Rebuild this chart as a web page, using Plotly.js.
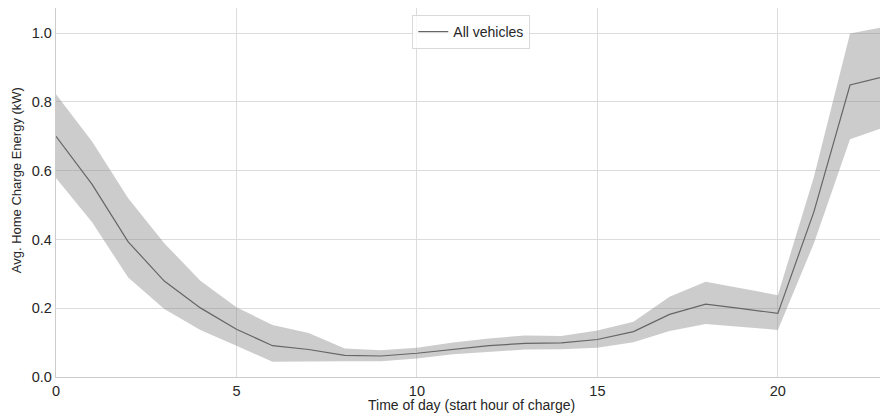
<!DOCTYPE html>
<html>
<head>
<meta charset="utf-8">
<script src="https://cdn.plot.ly/plotly-3.0.1.min.js"></script>
<style>html,body{margin:0;padding:0;background:#fff;}#chart{width:880px;height:414px;}</style>
</head>
<body>
<div id="chart"></div>
<script>
const hours = [0,1,2,3,4,5,6,7,8,9,10,11,12,13,14,15,16,17,18,19,20,21,22,23];
const meanKW = [0.700,0.560,0.393,0.279,0.201,0.139,0.091,0.080,0.063,0.061,0.069,0.080,0.091,0.098,0.099,0.109,0.132,0.182,0.212,0.199,0.185,0.481,0.849,0.875];
const upperKW = [0.822,0.685,0.520,0.389,0.280,0.203,0.151,0.128,0.083,0.078,0.085,0.100,0.112,0.121,0.119,0.135,0.161,0.233,0.277,0.257,0.238,0.582,0.999,1.019];
const lowerKW = [0.579,0.450,0.289,0.198,0.137,0.091,0.044,0.044,0.046,0.046,0.054,0.066,0.074,0.080,0.081,0.085,0.101,0.134,0.154,0.146,0.137,0.389,0.691,0.728];
const seriesName = "All vehicles";
const xTicks = [0,5,10,15,20];
const yTicks = [0.0,0.2,0.4,0.6,0.8,1.0];
const xTitle = 'Time of day (start hour of charge)';
const yTitle = 'Avg. Home Charge Energy (kW)';

const band = {
  x: hours.concat(hours.slice().reverse()),
  y: upperKW.concat(lowerKW.slice().reverse()),
  type: 'scatter', mode: 'lines', fill: 'toself',
  fillcolor: 'rgba(128,128,128,0.4)', line: {width: 0, color: 'rgba(0,0,0,0)'},
  showlegend: false, hoverinfo: 'skip'
};
const line = {
  x: hours, y: meanKW, type: 'scatter', mode: 'lines', name: seriesName,
  line: {color: '#666666', width: 1.2}
};
const font = {family: 'Liberation Sans, Arial, sans-serif', color: '#262626'};
const layout = {
  width: 880, height: 414,
  margin: {l: 56, r: 0, t: 8, b: 37, pad: 0},
  paper_bgcolor: '#ffffff', plot_bgcolor: '#ffffff',
  font: Object.assign({size: 14}, font),
  showlegend: true,
  legend: {x: 0.504, xanchor: 'center', y: 0.981, yanchor: 'top', bgcolor: 'rgba(255,255,255,0.8)',
    bordercolor: '#d9d9d9', borderwidth: 1, font: Object.assign({size: 14}, font)},
  xaxis: {
    range: [0, 22.83], tickvals: xTicks, ticktext: xTicks.map(String),
    showgrid: true, gridcolor: '#dcdcdc', gridwidth: 1, zeroline: false,
    showline: true, linecolor: '#cccccc', linewidth: 1.3, ticks: '', ticklen: 0,
    tickfont: Object.assign({size: 14.5}, font)
  },
  yaxis: {
    range: [0, 1.073], tickvals: yTicks, ticktext: yTicks.map(v => v.toFixed(1)),
    showgrid: true, gridcolor: '#dcdcdc', gridwidth: 1, zeroline: false,
    showline: true, linecolor: '#cccccc', linewidth: 1.3, ticks: '', ticklen: 0,
    tickfont: Object.assign({size: 14.5}, font)
  },
  annotations: [
    {text: xTitle, xref: 'paper', yref: 'paper', x: 0.504, y: -0.077, xanchor: 'center', yanchor: 'middle',
     showarrow: false, font: Object.assign({size: 14}, font)},
    {text: yTitle, xref: 'paper', yref: 'paper', x: -0.047, y: 0.534, xanchor: 'center', yanchor: 'middle',
     textangle: -90, showarrow: false, font: Object.assign({size: 13}, font)}
  ]
};
Plotly.newPlot('chart', [band, line], layout, {displayModeBar: false, staticPlot: true});
</script>
</body>
</html>
